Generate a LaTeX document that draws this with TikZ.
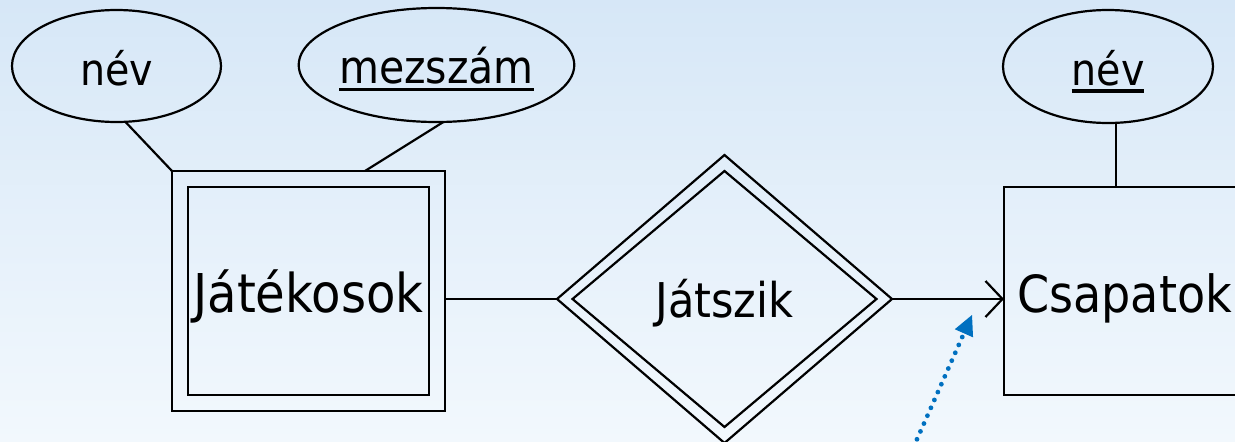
\documentclass[tikz,border=0pt]{standalone}
\usepackage{fontspec}
\setmainfont{DejaVu Sans}[FakeStretch=0.9]
\usetikzlibrary{shapes.geometric,arrows.meta}
\definecolor{skytop}{RGB}{214,231,247}
\definecolor{skymid}{RGB}{229,240,250}
\definecolor{skybot}{RGB}{242,248,253}
\definecolor{hintblue}{RGB}{0,112,192}
\newcommand\ulw[1]{\setbox0\hbox{#1}\rlap{\rule[-8pt]{\wd0}{3.6pt}}\box0}
\begin{document}
\begin{tikzpicture}[x=1pt,y=-1pt,
  every node/.style={inner sep=0pt, outer sep=0pt},
  ln/.style={line width=2.2pt, draw=black},
  attr/.style={ellipse, draw=black, line width=2.2pt, text depth=0pt},
  ent/.style={rectangle, draw=black, line width=2.2pt, text depth=0pt},
  rel/.style={diamond, draw=black, line width=2.2pt, text depth=0pt},
  hintarrow/.style={draw=hintblue, line width=4.8pt, line cap=round,
    dash pattern=on 0pt off 8.6pt,
    -{Triangle[length=20pt,width=20pt,line width=0pt]}}]
\useasboundingbox (0,0) rectangle (1235,442);
\shade[top color=skytop, bottom color=skybot, middle color=skymid] (0,0) rectangle (1235,442);

% attributes
\node[attr, minimum width=209pt, minimum height=112pt, text height=38pt,
      font=\fontsize{44}{50}\selectfont] (nev1) at (116.5,66) {név};
\node[attr, minimum width=273pt, minimum height=114pt, text height=36.6pt,
      font=\fontsize{45.6}{52}\selectfont] (mez) at (436.5,65) {\ulw{mezszám}};
\node[attr, minimum width=210pt, minimum height=113pt, text height=37pt,
      font=\fontsize{44}{50}\selectfont] (nev2) at (1108,66.5) {\ulw{név}};

% weak entity Játékosok
\node[ent, minimum width=273pt, minimum height=240pt] (jat) at (308.5,291) {};
\node[ent, minimum width=241pt, minimum height=208pt, text height=42pt,
      font=\fontsize{53.5}{60}\selectfont] (jatin) at (308.5,291) {Játékosok};

% entity Csapatok
\node[ent, minimum width=241pt, minimum height=208pt, text height=42pt,
      font=\fontsize{51.2}{58}\selectfont] (csap) at (1124.5,291) {Csapatok};

% weak relationship Játszik
\node[rel, minimum width=335pt, minimum height=288pt] (jatsz) at (724.5,299) {};
\node[rel, minimum width=304pt, minimum height=256pt, text height=36pt,
      font=\fontsize{47.9}{54}\selectfont] (jatszin) at (724.5,299) {Játszik};

% helper coordinates on borders
\coordinate (mezfoot) at (365,171);
\coordinate (csaptop) at (1116,187);
\coordinate (hintstart) at (910,455);
\coordinate (hinttip) at (972,315);

% connectors
\draw[ln] (nev1.279) -- (jat.north west);
\draw[ln] (mez.277.5) -- (mezfoot);
\draw[ln] (nev2.south -| csaptop) -- (csaptop);
\draw[ln] (jatsz.west -| jat.east) -- (jatsz.west);
\draw[ln, -{Straight Barb[length=17pt,width=36pt]}] (jatsz.east) -- (jatsz.east -| csap.west);
\draw[hintarrow] (hintstart) -- (hinttip);
\end{tikzpicture}
\end{document}
